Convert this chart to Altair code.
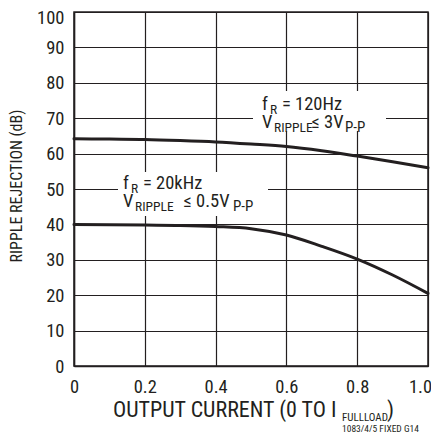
import altair as alt
import pandas as pd

# ---- data ----
current = [0, 0.1, 0.2, 0.3, 0.4, 0.5, 0.6, 0.7, 0.8, 0.9, 1.0]
rr_120hz = [64.2, 64.1, 64.0, 63.7, 63.3, 62.7, 62.0, 60.8, 59.3, 57.7, 56.0]
rr_20khz = [40.0, 39.9, 39.8, 39.7, 39.4, 38.8, 37.0, 33.8, 30.2, 25.7, 20.5]
x_ticks = [0, 0.2, 0.4, 0.6, 0.8, 1.0]
y_ticks = [0, 10, 20, 30, 40, 50, 60, 70, 80, 90, 100]

FONT = "Liberation Sans Narrow, Roboto Condensed, DejaVu Sans Condensed, Arial Narrow, sans-serif"
INK = "#231f20"
W, H = 354, 354

df = pd.DataFrame({
    "x": current * 2,
    "y": rr_120hz + rr_20khz,
    "s": ["120Hz"] * len(current) + ["20kHz"] * len(current),
})

xs = alt.Scale(domain=[0, 1], nice=False)
ys = alt.Scale(domain=[0, 100], nice=False)

curves = alt.Chart(df).mark_line(
    interpolate="monotone", strokeWidth=3, color=INK, strokeCap="round"
).encode(
    x=alt.X("x:Q", scale=xs, axis=alt.Axis(
        values=x_ticks, title=None,
        labelExpr="datum.value == 0 ? '0' : format(datum.value, '.1f')",
        labelOffset={"condition": {"test": "datum.value == 1", "value": -8}, "value": 0})),
    y=alt.Y("y:Q", scale=ys, axis=alt.Axis(
        values=y_ticks, title=None,
        labelOffset={"condition": {"test": "datum.value == 100", "value": 5}, "value": 0})),
    detail="s:N",
)

one = pd.DataFrame({"k": [0]})


def box(x1, x2, y1, y2):
    return alt.Chart(one).mark_rect(fill="white").encode(
        x=alt.value(x1), x2=alt.value(x2), y=alt.value(y1), y2=alt.value(y2))


def txt(s, x, y, size, angle=0, align="left", baseline="alphabetic"):
    return alt.Chart(one).mark_text(
        font=FONT, fontSize=size, color=INK, align=align,
        baseline=baseline, angle=angle
    ).encode(x=alt.value(x), y=alt.value(y), text=alt.value(s))


MAIN, SUB, SUB2 = 18.5, 13.5, 15

layers = [
    box(179, 312, 79, 119),
    box(44, 194, 160, 204),
    curves,
    # f_R = 120Hz annotation
    txt("f", 188, 97.5, MAIN),
    txt("R", 196, 102, SUB),
    txt("= 120Hz", 208, 97.5, MAIN),
    txt("V", 188, 115.5, MAIN),
    txt("RIPPLE", 200, 119.5, SUB),
    txt("\u2264 3V", 237.5, 115.5, MAIN),
    txt("P-P", 271, 119.5, SUB2),
    # f_R = 20kHz annotation
    txt("f", 49, 176.5, MAIN),
    txt("R", 57, 181, SUB),
    txt("= 20kHz", 69, 176.5, MAIN),
    txt("V", 49, 195, MAIN),
    txt("RIPPLE", 61, 199, SUB),
    txt("\u2264 0.5V", 109.5, 195, MAIN),
    txt("P-P", 159, 199, SUB2),
    # axis titles
    txt("OUTPUT CURRENT (0 TO I", 39, 405, 22),
    txt("FULLLOAD", 268, 408.5, 11),
    txt(")", 313, 405, 22),
    txt("RIPPLE REJECTION (dB)", -57, 174, 16, angle=270, align="center", baseline="middle"),
    txt("1083/4/5 FIXED G14", 268, 419.5, 9.5),
]

chart = alt.layer(*layers).properties(
    width=W, height=H,
    autosize=alt.AutoSizeParams(type="none"),
    padding={"left": 66, "top": 4, "right": 3, "bottom": 66},
).configure_view(
    stroke=INK, strokeWidth=1.5
).configure_axis(
    labelFont=FONT, labelFontSize=18.5, labelColor=INK,
    ticks=False, tickSize=0,
    domainColor=INK, domainWidth=1.5,
    grid=True, gridColor=INK, gridOpacity=1, gridWidth=1.2,
).configure_axisX(
    labelPadding=11, labelFlush=False
).configure_axisY(
    labelPadding=10, labelFlush=False
)

chart.save("out.html", embed_options={"renderer": "svg", "actions": False})
